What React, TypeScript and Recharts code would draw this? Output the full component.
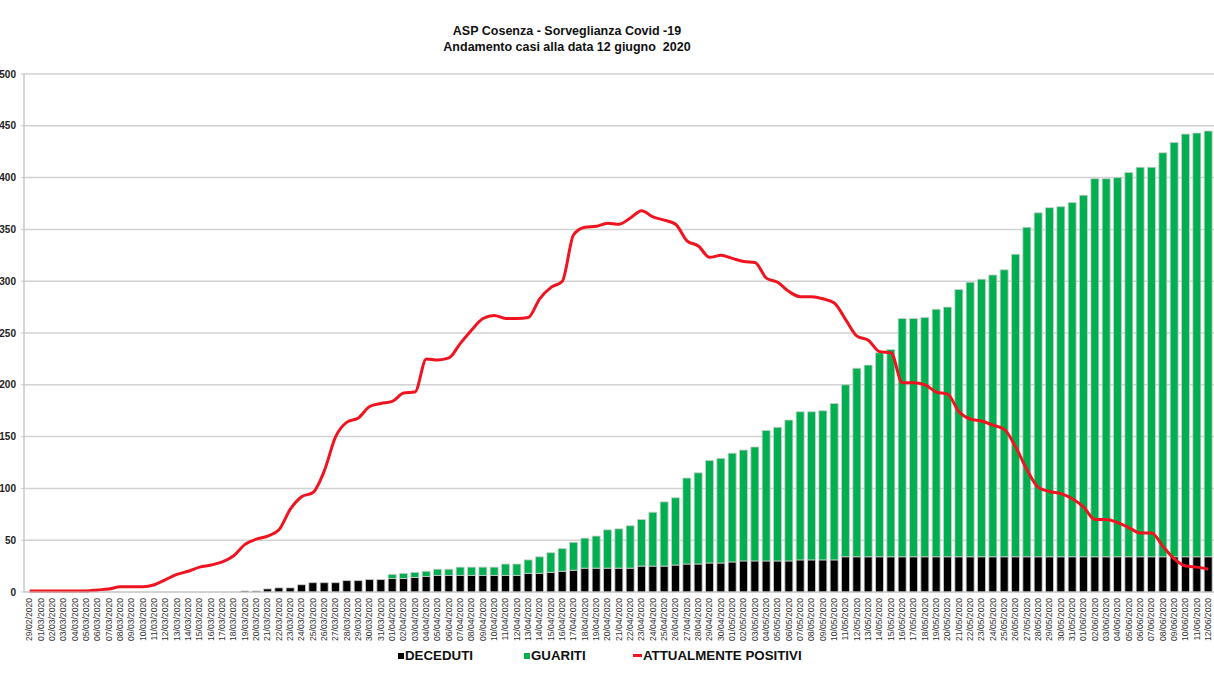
import { Bar, CartesianGrid, ComposedChart, Line, XAxis, YAxis } from 'recharts';

const DATES = [
  '29/02/2020',
  '01/03/2020', '02/03/2020', '03/03/2020', '04/03/2020', '05/03/2020', '06/03/2020', '07/03/2020',
  '08/03/2020', '09/03/2020', '10/03/2020', '11/03/2020', '12/03/2020', '13/03/2020', '14/03/2020',
  '15/03/2020', '16/03/2020', '17/03/2020', '18/03/2020', '19/03/2020', '20/03/2020', '21/03/2020',
  '22/03/2020', '23/03/2020', '24/03/2020', '25/03/2020', '26/03/2020', '27/03/2020', '28/03/2020',
  '29/03/2020', '30/03/2020', '31/03/2020',
  '01/04/2020', '02/04/2020', '03/04/2020', '04/04/2020', '05/04/2020', '06/04/2020', '07/04/2020',
  '08/04/2020', '09/04/2020', '10/04/2020', '11/04/2020', '12/04/2020', '13/04/2020', '14/04/2020',
  '15/04/2020', '16/04/2020', '17/04/2020', '18/04/2020', '19/04/2020', '20/04/2020', '21/04/2020',
  '22/04/2020', '23/04/2020', '24/04/2020', '25/04/2020', '26/04/2020', '27/04/2020', '28/04/2020',
  '29/04/2020', '30/04/2020',
  '01/05/2020', '02/05/2020', '03/05/2020', '04/05/2020', '05/05/2020', '06/05/2020', '07/05/2020',
  '08/05/2020', '09/05/2020', '10/05/2020', '11/05/2020', '12/05/2020', '13/05/2020', '14/05/2020',
  '15/05/2020', '16/05/2020', '17/05/2020', '18/05/2020', '19/05/2020', '20/05/2020', '21/05/2020',
  '22/05/2020', '23/05/2020', '24/05/2020', '25/05/2020', '26/05/2020', '27/05/2020', '28/05/2020',
  '29/05/2020', '30/05/2020', '31/05/2020',
  '01/06/2020', '02/06/2020', '03/06/2020', '04/06/2020', '05/06/2020', '06/06/2020', '07/06/2020',
  '08/06/2020', '09/06/2020', '10/06/2020', '11/06/2020', '12/06/2020',
];

const DECEDUTI = [
  0, 0, 0, 0, 0, 0, 0, 0, 0, 0, 0, 0, 0, 0, 0, 0, 0, 0, 0,
  1, 1, 3, 4, 4, 7, 9, 9, 9, 11, 11, 12, 12,
  13, 13, 14, 15, 16, 16, 16, 16, 16, 16, 16, 16, 18, 18, 19, 20, 21, 23, 23, 23, 23, 23,
  25, 25, 25, 26, 27, 27, 28, 28, 29, 30, 30, 30, 30, 30, 31, 31, 31, 31,
  34, 34, 34, 34, 34, 34, 34, 34, 34, 34, 34, 34, 34, 34, 34, 34, 34, 34, 34, 34, 34, 34,
  34, 34, 34, 34, 34, 34, 34, 34, 34, 34, 34,
];

const GUARITI = [
  0, 0, 0, 0, 0, 0, 0, 0, 0, 0, 0, 0, 0, 0, 0, 0, 0, 0, 0, 0, 0, 0, 0, 0, 0, 0, 0, 0, 0, 0, 0, 0,
  4, 5, 5, 5, 6, 6, 8, 8, 8, 8, 11, 11, 13, 16, 19, 22, 27, 29, 31, 37, 38, 41,
  45, 52, 62, 65, 83, 88, 99, 101, 105, 107, 110, 126, 129, 136, 143, 143, 144, 151,
  166, 182, 185, 197, 200, 230, 230, 231, 239, 241, 258, 265, 268, 272, 277, 292, 318, 332, 337, 338,
  342, 349, 365, 365, 366, 371, 376, 376, 390, 400, 408, 409, 411,
];

const POSITIVI = [
  1, 1, 1, 1, 1, 1, 2, 3, 5, 5, 5, 7, 12, 17, 20, 24, 26, 29, 35,
  46, 51, 54, 60, 80, 92, 96, 117, 150, 164, 168, 179, 182,
  184, 192, 193, 225, 224, 226, 240, 253, 264, 267, 264, 264, 265, 283, 294, 300, 345, 352, 353, 356,
  355, 361, 368, 362, 359, 355, 339, 334, 323, 325,
  322, 319, 318, 303, 299, 290, 285, 285, 283, 279, 263, 247, 243, 232, 231, 202, 202, 200, 193, 191,
  174, 167, 165, 161, 157, 140, 118, 101, 97, 95, 90,
  82, 70, 70, 67, 62, 57, 57, 44, 32, 25, 24, 22,
];

const Y_TICKS = [0, 50, 100, 150, 200, 250, 300, 350, 400, 450, 500];

const data = DATES.map((date, i) => ({
  date,
  deceduti: DECEDUTI[i],
  guariti: GUARITI[i],
  positivi: POSITIVI[i],
}));

const FONT = '"Liberation Sans", Arial, sans-serif';

function DateTick({ x, y, payload }: any) {
  return (
    <text
      x={x}
      y={y}
      dy="0.33em"
      transform={`rotate(-90 ${x} ${y})`}
      textAnchor="end"
      fontSize={8.6}
      fontFamily={FONT}
      fill="#333"
    >
      {payload.value}
    </text>
  );
}

export default function App() {
  return (
    <div style={{ position: 'absolute', left: 0, top: 0, width: 1214, height: 683, background: '#fff', fontFamily: FONT }}>
      <div
        style={{
          position: 'absolute',
          left: 0,
          top: 23,
          width: 1134,
          textAlign: 'center',
          fontSize: 12.5,
          fontWeight: 'bold',
          lineHeight: '16px',
          color: '#111',
        }}
      >
        ASP Cosenza - Sorveglianza Covid -19
        <br />
        Andamento casi alla data 12 giugno&nbsp; 2020
      </div>
      <ComposedChart
        width={1214}
        height={683}
        data={data}
        margin={{ top: 74, right: 0, bottom: 41, left: 0 }}
        barCategoryGap={1.5}
      >
        <CartesianGrid vertical={false} stroke="#d2d2d2" strokeWidth={1.5} />
        <XAxis
          dataKey="date"
          interval={0}
          height={50}
          tick={<DateTick />}
          tickLine={false}
          tickSize={6}
          tickMargin={0}
          axisLine={{ stroke: '#c8c8c8' }}
        />
        <YAxis
          domain={[0, 500]}
          ticks={Y_TICKS}
          width={24}
          tickSize={3}
          tickMargin={5}
          interval={0}
          axisLine={{ stroke: '#c8c8c8', strokeWidth: 1.5 }}
          tickLine={{ stroke: '#c8c8c8' }}
          tick={{ fontSize: 10, fontWeight: 'bold', fill: '#222', fontFamily: FONT }}
        />
        <Bar
          dataKey="deceduti"
          stackId="a"
          fill="#000000"
          stroke="#cfcfcf"
          strokeWidth={0.8}
          isAnimationActive={false}
        />
        <Bar
          dataKey="guariti"
          stackId="a"
          fill="#00b050"
          stroke="#cfcfcf"
          strokeWidth={0.8}
          isAnimationActive={false}
        />
        <Line
          dataKey="positivi"
          type="monotone"
          stroke="#f01420"
          strokeWidth={3}
          dot={false}
          isAnimationActive={false}
        />
      </ComposedChart>
      <div
        style={{
          position: 'absolute',
          top: 648,
          left: 0,
          width: 1214,
          height: 16,
          fontSize: 13.3,
          fontWeight: 'bold',
          color: '#111',
        }}
      >
        <div style={{ position: 'absolute', left: 398, top: 0, display: 'flex', alignItems: 'center' }}>
          <span style={{ width: 6, height: 6, background: '#000', display: 'inline-block', marginRight: 1 }} />
          DECEDUTI
        </div>
        <div style={{ position: 'absolute', left: 524, top: 0, display: 'flex', alignItems: 'center' }}>
          <span style={{ width: 6, height: 6, background: '#00b050', display: 'inline-block', marginRight: 1 }} />
          GUARITI
        </div>
        <div style={{ position: 'absolute', left: 633, top: 0, display: 'flex', alignItems: 'center' }}>
          <span style={{ width: 9, height: 3, background: '#f01420', display: 'inline-block', marginRight: 1 }} />
          ATTUALMENTE POSITIVI
        </div>
      </div>
    </div>
  );
}
